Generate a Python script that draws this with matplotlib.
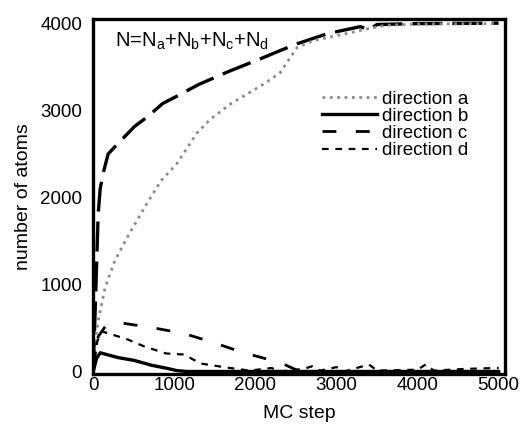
import matplotlib.pyplot as plt
import numpy as np

plt.rcParams['font.family'] = ['Liberation Sans', 'DejaVu Sans']
plt.rcParams['mathtext.fontset'] = 'custom'
plt.rcParams['mathtext.rm'] = 'Liberation Sans'
plt.rcParams['mathtext.it'] = 'Liberation Sans'

# total N = Na+Nb+Nc+Nd
x_n = [0, 20, 40, 60, 85, 122, 183, 293, 512, 671, 854, 1061, 1300, 1671, 2073,
       2488, 2890, 3293, 3400, 3500, 4000, 5000]
y_n = [0, 600, 1200, 1800, 2100, 2280, 2500, 2610, 2820, 2930, 3080, 3180, 3300,
       3450, 3600, 3760, 3885, 3965, 3930, 3990, 4000, 4005]

# direction a
x_a = [0, 24, 61, 146, 267, 425, 631, 837, 1032, 1274, 1444, 1699, 2112, 2306,
       2512, 2718, 3119, 3398, 3600, 4000, 5000]
y_a = [0, 356, 586, 966, 1276, 1552, 1885, 2195, 2391, 2736, 2900, 3080, 3310,
       3437, 3724, 3805, 3885, 3943, 3980, 3995, 4000]

# direction b
x_b = [0, 40, 85, 303, 510, 716, 910, 1030, 1150, 5000]
y_b = [0, 150, 215, 160, 126, 72, 36, 10, 0, 0]

# direction c
x_c = [0, 60, 150, 303, 716, 1117, 1480, 1845, 2209, 2330, 2500, 2700, 5000]
y_c = [0, 400, 520, 563, 506, 437, 333, 218, 126, 92, 20, 0, 0]

# direction d
x_d = [0, 50, 109, 230, 425, 631, 898, 1117, 1323, 1638, 1930, 2200, 2300, 2600,
       2700, 2800, 3000, 3100, 3400, 3500, 4000, 4100, 4200, 4600, 5000]
y_d = [0, 350, 460, 425, 368, 287, 207, 195, 92, 46, 10, 40, 0, 30,
       60, 10, 50, 0, 80, 10, 20, 80, 10, 30, 40]

fig = plt.figure(figsize=(5.24, 4.28), dpi=100)
ax = fig.add_axes([0.178, 0.126, 0.786, 0.829])

ax.plot(x_n, y_n, color='black', lw=2.4, dashes=(9, 3))
ax.plot(x_a, y_a, color='#8a8a8a', lw=2.0, linestyle=':', label='direction a')
ax.plot(x_b, y_b, color='black', lw=2.4, label='direction b')
ax.plot(x_c, y_c, color='black', lw=2.0, dashes=(5, 7), label='direction c')
ax.plot(x_d, y_d, color='black', lw=1.6, dashes=(3, 3), label='direction d')

ax.text(267, 3800, r'N=N$_\mathregular{a}$+N$_\mathregular{b}$+N$_\mathregular{c}$+N$_\mathregular{d}$',
        fontsize=14.5, va='center')

ax.set_xlim(0, 5080)
ax.set_ylim(-30, 4050)
ax.set_xticks([0, 1000, 2000, 3000, 4000, 5000])
ax.set_yticks([0, 1000, 2000, 3000, 4000])
ax.tick_params(axis='both', length=0, labelsize=13.5)
ax.tick_params(axis='x', pad=2)
ax.tick_params(axis='y', pad=8)
for s in ax.spines.values():
    s.set_linewidth(2.4)

ax.set_xlabel('MC step', fontsize=14, labelpad=8)
ax.set_ylabel('number of atoms', fontsize=14, labelpad=6)

ax.legend(loc='upper right', bbox_to_anchor=(0.93, 0.82), frameon=False,
          fontsize=13.5, handlelength=2.9, handletextpad=0.3, labelspacing=0.0,
          borderaxespad=0)

fig.savefig('out.png', dpi=100)
